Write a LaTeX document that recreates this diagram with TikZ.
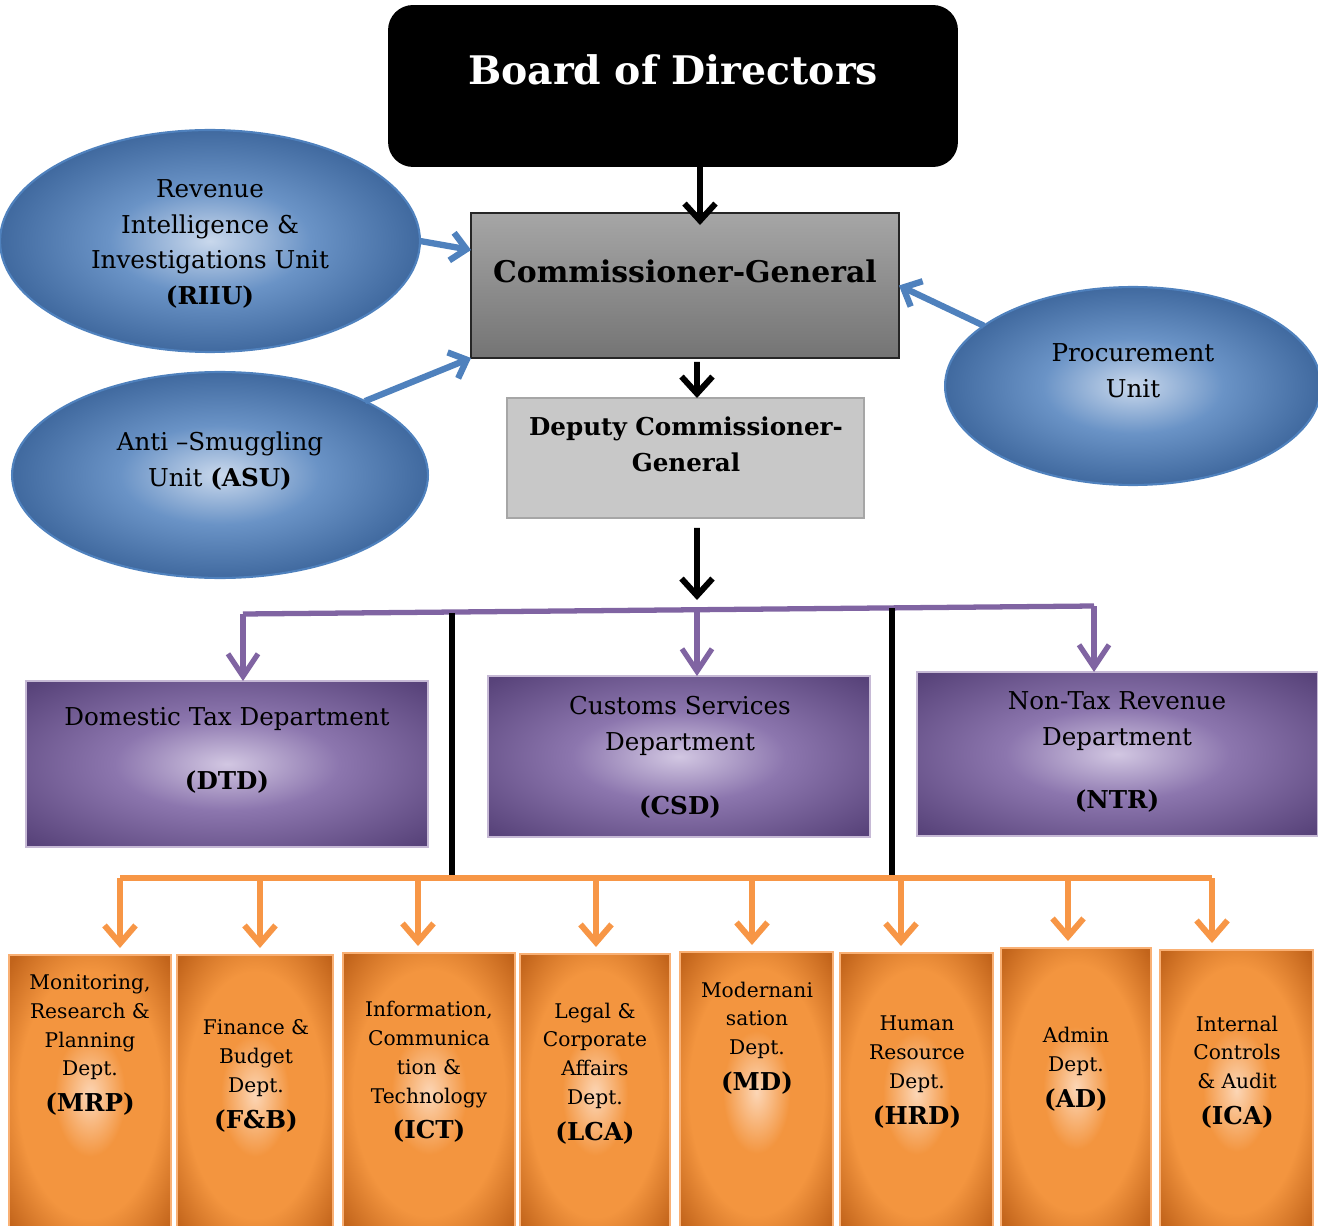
\documentclass[tikz,border=0pt]{standalone}
\usepackage{fontspec}
\setmainfont{DejaVu Serif}
\usetikzlibrary{arrows.meta,shapes.geometric}

\definecolor{ovalblue}{HTML}{4F81BD}
\definecolor{ovallight}{HTML}{C9D8EC}
\definecolor{ovalmid}{HTML}{6A93C6}
\definecolor{ovaldark}{HTML}{3A6399}
\definecolor{deptpurple}{HTML}{8064A2}
\definecolor{purplelight}{HTML}{D2C7E2}
\definecolor{purplemid}{HTML}{8C76AE}
\definecolor{purpledark}{HTML}{58437A}
\definecolor{unitorange}{HTML}{F79646}
\definecolor{orangelight}{HTML}{FCD6B6}
\definecolor{orangemid}{HTML}{F3953F}
\definecolor{orangedark}{HTML}{C2641B}
\definecolor{commtop}{HTML}{A6A6A6}
\definecolor{commbottom}{HTML}{747474}
\definecolor{deputygray}{HTML}{C8C8C8}

\pgfdeclareradialshading{blueglow}{\pgfpointorigin}{color(0bp)=(ovallight); color(12bp)=(ovalmid); color(27bp)=(ovaldark); color(50bp)=(ovaldark)}
\pgfdeclareradialshading{purpleglow}{\pgfpointorigin}{color(0bp)=(purplelight); color(14bp)=(purplemid); color(34bp)=(purpledark); color(50bp)=(purpledark)}
\pgfdeclareradialshading{orangeglow}{\pgfpointorigin}{color(0bp)=(orangelight); color(11bp)=(orangemid); color(22bp)=(orangemid); color(34bp)=(orangedark); color(50bp)=(orangedark)}

\newcommand{\unitabbr}[1]{{\fontsize{14}{17}\selectfont\bfseries #1}}

\tikzset{
  every node/.style={inner sep=0pt, outer sep=0pt},
  boardbox/.style={rectangle, rounded corners=0.5cm, fill=black},
  commbox/.style={rectangle, top color=commtop, bottom color=commbottom, draw=black!85, line width=0.8pt},
  deputybox/.style={rectangle, fill=deputygray, draw=black!35, line width=0.8pt},
  ovalunit/.style={ellipse, shading=blueglow, draw=ovalblue, line width=1.2pt},
  deptbox/.style={rectangle, shading=purpleglow, draw=deptpurple!45!white, line width=0.8pt},
  orangebox/.style={rectangle, shading=orangeglow, draw=unitorange!75!white, line width=1pt, minimum height=5.6cm, anchor=north},
  boardtext/.style={text=white, font=\fontsize{22.4}{26}\selectfont\bfseries},
  commtext/.style={font=\fontsize{17}{20}\selectfont\bfseries},
  deputytext/.style={align=center, font=\fontsize{14}{20.4}\selectfont\bfseries},
  ovaltext/.style={align=center, font=\fontsize{14}{20.4}\selectfont},
  depttext/.style={align=center, font=\fontsize{14}{20.4}\selectfont},
  unittext/.style={align=center, font=\fontsize{11.5}{16.4}\selectfont},
  blackarrow/.style={-{Straight Barb[length=0.34cm,width=0.62cm]}, line width=3.4pt, black},
  blackline/.style={line width=3.4pt, black},
  bluearrow/.style={-{Straight Barb[length=0.3cm,width=0.56cm]}, line width=3.6pt, ovalblue},
  purpleline/.style={line width=3pt, deptpurple},
  purplearrow/.style={-{Straight Barb[length=0.45cm,width=0.6cm]}, line width=3pt, deptpurple},
  orangeline/.style={line width=3.4pt, unitorange},
  orangearrow/.style={-{Straight Barb[length=0.36cm,width=0.62cm]}, line width=3.4pt, unitorange, shorten >=0.14cm},
}

\begin{document}
\begin{tikzpicture}[x=0.02cm,y=-0.02cm]
\useasboundingbox (0,0) rectangle (1318,1226);

\node[boardbox, minimum width=11.4cm, minimum height=3.24cm] (board) at (673,86) {};
\node[boardtext] (boardtxt) at (673,70) {Board of Directors};

\node[commbox, minimum width=8.56cm, minimum height=2.9cm] (comm) at (685,285.5) {};
\node[commtext] (commtxt) at (685,271) {Commissioner-General};

\node[deputybox, minimum width=7.14cm, minimum height=2.4cm] (deputy) at (685.5,458) {};
\node[deputytext] (deputytxt) at (686,444) {Deputy Commissioner-\\General};

\node[ovalunit, minimum width=8.4cm, minimum height=4.44cm] (riiu) at (210,241) {};
\node[ovaltext] (riiutxt) at (210,244) {Revenue\\Intelligence \&\\Investigations Unit\\\textbf{(RIIU)}};
\node[ovalunit, minimum width=8.32cm, minimum height=4.12cm] (asu) at (220,475) {};
\node[ovaltext] (asutxt) at (220,461) {Anti –Smuggling\\Unit \textbf{(ASU)}};
\node[ovalunit, minimum width=7.52cm, minimum height=3.96cm] (proc) at (1133,386) {};
\node[ovaltext] (proctxt) at (1133,371) {Procurement\\Unit};

\node[deptbox, minimum width=8.04cm, minimum height=3.32cm] (dtd) at (227,764) {};
\node[depttext] (dtdtxt) at (227,750) {Domestic Tax Department\\[16pt]\textbf{(DTD)}};
\node[deptbox, minimum width=7.64cm, minimum height=3.22cm] (csd) at (679,756.5) {};
\node[depttext] (csdtxt) at (680,757) {Customs Services\\Department\\[16pt]\textbf{(CSD)}};
\node[deptbox, minimum width=8.02cm, minimum height=3.28cm] (ntr) at (1117.5,754) {};
\node[depttext] (ntrtxt) at (1117,752) {Non-Tax Revenue\\Department\\[16pt]\textbf{(NTR)}};

\node[orangebox, minimum width=3.24cm] (mrp) at (90,955) {};
\node[unittext] (mrptxt) at (90,1045) {Monitoring,\\Research \&\\Planning\\Dept.\\[4pt]\unitabbr{(MRP)}};
\node[orangebox, minimum width=3.12cm] (fb) at (255,955) {};
\node[unittext] (fbtxt) at (256,1076) {Finance \&\\Budget\\Dept.\\[4pt]\unitabbr{(F\&B)}};
\node[orangebox, minimum width=3.44cm] (ict) at (429,953) {};
\node[unittext] (icttxt) at (429,1072) {Information,\\Communica\\tion \&\\Technology\\[4pt]\unitabbr{(ICT)}};
\node[orangebox, minimum width=3.0cm] (lca) at (595,954) {};
\node[unittext] (lcatxt) at (595,1073.5) {Legal \&\\Corporate\\Affairs\\Dept.\\[4pt]\unitabbr{(LCA)}};
\node[orangebox, minimum width=3.06cm] (md) at (756.5,952) {};
\node[unittext] (mdtxt) at (757,1038) {Modernani\\sation\\Dept.\\[4pt]\unitabbr{(MD)}};
\node[orangebox, minimum width=3.06cm] (hrd) at (916.5,953) {};
\node[unittext] (hrdtxt) at (917,1072) {Human\\Resource\\Dept.\\[4pt]\unitabbr{(HRD)}};
\node[orangebox, minimum width=3.0cm] (ad) at (1076,948) {};
\node[unittext] (adtxt) at (1076,1069.5) {Admin\\Dept.\\[4pt]\unitabbr{(AD)}};
\node[orangebox, minimum width=3.06cm] (ica) at (1236.5,950) {};
\node[unittext] (icatxt) at (1237,1072) {Internal\\Controls\\\& Audit\\[4pt]\unitabbr{(ICA)}};

\draw[blackarrow] ([xshift=0.54cm]board.south) -- ([xshift=0.3cm,yshift=-0.24cm]comm.north);
\draw[blackarrow] ([xshift=0.24cm,yshift=-0.08cm]comm.south) -- ([xshift=0.23cm]deputy.north);

\draw[bluearrow] (riiu.east) -- ([yshift=-0.74cm]comm.north west);
\draw[bluearrow] (asu.27) -- (comm.south west);
\draw[bluearrow] (proc.158) -- (comm.east);

\path (243,614) coordinate (pl);
\path (697,610) coordinate (pm);
\path (1094,606) coordinate (pr);
\draw[blackarrow] ([xshift=0.23cm,yshift=-0.2cm]deputy.south) -- ([yshift=0.2cm]pm);
\draw[purpleline] (pl) -- (pr);
\draw[purplearrow] (pl) -- (pl |- dtd.north);
\draw[purplearrow] (pm) -- (pm |- csd.north);
\draw[purplearrow] (pr) -- (pr |- ntr.north);

\path (452,613) coordinate (v1top);
\path (452,878) coordinate (v1bot);
\path (892,608) coordinate (v2top);
\path (892,878) coordinate (v2bot);
\draw[blackline] (v1top) -- (v1bot);
\draw[blackline] (v2top) -- (v2bot);

\foreach \i/\ax/\bx in {1/120/mrp,2/260/fb,3/418/ict,4/596/lca,5/752/md,6/901/hrd,7/1068/ad,8/1212/ica}{
  \path (\ax,878) coordinate (o\i);
  \draw[orangearrow] (o\i) -- (o\i |- \bx.north);
}
\draw[orangeline] (o1) -- (o8);
\end{tikzpicture}
\end{document}
